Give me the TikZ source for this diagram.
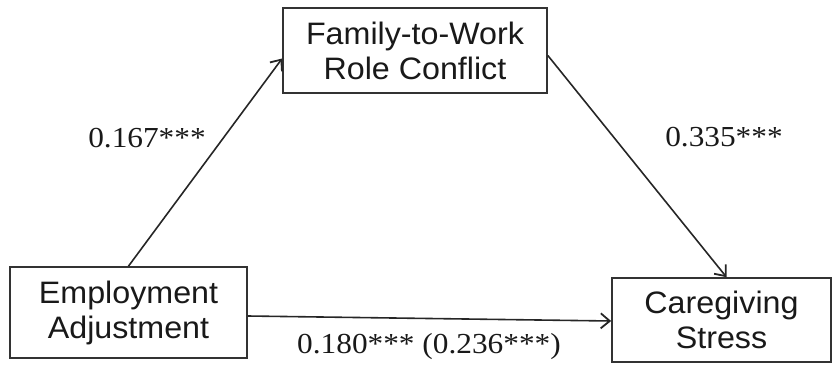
\documentclass[tikz,border=0pt]{standalone}
\usepackage{fontspec}
\setmainfont{Liberation Serif}
\newfontfamily\boxfont[FakeStretch=1.04]{Liberation Sans}
\newfontfamily\labfont[FakeStretch=1.08]{Liberation Serif}
\usetikzlibrary{arrows.meta}
\begin{document}
\begin{tikzpicture}[x=1pt,y=-1pt,
  varbox/.style={draw=black!80,line width=1.7pt,fill=white,align=center,inner sep=0pt,
    font=\boxfont\fontsize{31}{35}\selectfont,text=black!90},
  coef/.style={font=\labfont\fontsize{29}{33}\selectfont,text=black!90,inner sep=0pt},
  path/.style={draw=black!85,line width=1.6pt,-{Straight Barb[length=9pt,width=15pt,line width=1.8pt]}}]
\useasboundingbox (0,0) rectangle (839,365);
\node[varbox,minimum width=264pt,minimum height=85pt] (fam) at (415,50.5) {Family-to-Work\\Role Conflict};
\node[varbox,minimum width=237pt,minimum height=91pt] (emp) at (128.5,312.5) {Employment\\Adjustment};
\node[varbox,minimum width=219pt,minimum height=84pt] (care) at (721.5,320) {Caregiving\\Stress};
\draw[path] (emp.north) -- ([yshift=-8pt]fam.west);
\draw[path] ([yshift=-5pt]fam.east) -- ([xshift=5pt]care.north);
\draw[path] ([yshift=-3.5pt]emp.east) -- ([yshift=-1pt]care.west);
\node[coef] (a) at (147,138) {0.167***};
\node[coef] (b) at (724,137) {0.335***};
\node[coef] (c) at (429,347) {0.180*** (0.236***)};
\end{tikzpicture}
\end{document}
